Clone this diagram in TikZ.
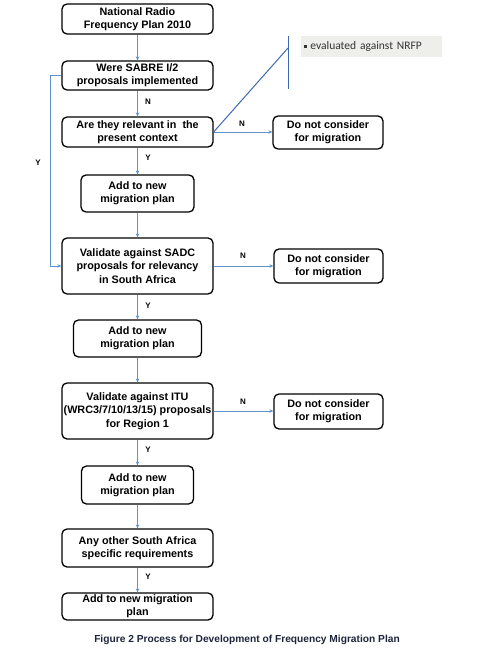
\documentclass[tikz,border=0pt]{standalone}
\usepackage{fontspec}
\setmainfont{Liberation Sans}
\newfontfamily\calib{Carlito}
\usetikzlibrary{arrows.meta}
\definecolor{connc}{RGB}{96,146,204}
\definecolor{darkc}{RGB}{62,104,176}
\definecolor{notec}{RGB}{238,239,234}
\definecolor{capc}{RGB}{30,36,60}
\begin{document}
\begin{tikzpicture}[x=1pt,y=-1pt,
 box/.style={draw=black, line width=1.3pt, rounded corners=5pt, align=center,
   font=\bfseries\fontsize{10.8}{13.3}\selectfont, inner sep=0pt, minimum width=151pt},
 conn/.style={draw=connc, line width=0.9pt, -{Stealth[length=4pt,width=3.5pt]}},
 lab/.style={font=\bfseries\fontsize{8}{9}\selectfont, inner sep=0pt}]
\useasboundingbox (0,0) rectangle (487,660);

\node[box, minimum height=30pt] (nrfp) at (137.5,19) {National Radio\\Frequency Plan 2010};
\node[box, minimum height=29pt] (sabre) at (137.5,75.5) {Were SABRE I/2\\proposals implemented};
\node[box, minimum height=30pt] (relev) at (137.5,132) {Are they relevant in\ \ the\\present context};
\node[box, minimum width=113pt, minimum height=37pt] (add1) at (137.5,193.5) {Add to new\\migration plan};
\node[box, minimum height=56pt] (sadc) at (137.5,266) {Validate against SADC\\proposals for relevancy\\in South Africa};
\node[box, minimum width=128pt, minimum height=37pt] (add2) at (137.5,338.5) {Add to new\\migration plan};
\node[box, minimum height=56pt] (itu) at (137.5,411) {Validate against ITU\\(WRC3/7/10/13/15) proposals\\for Region 1};
\node[box, minimum width=112pt, minimum height=38pt] (add3) at (137.5,485) {Add to new\\migration plan};
\node[box, minimum height=38pt] (other) at (137.5,548) {Any other South Africa\\specific requirements};
\node[box, minimum height=27pt] (addf) at (137.5,606.5) {Add to new migration\\plan};

\node[box, minimum width=110pt, minimum height=33pt] (dnc1) at (328,132.5) {Do not consider\\for migration};
\node[box, minimum width=109pt, minimum height=34pt] (dnc2) at (328.5,266) {Do not consider\\for migration};
\node[box, minimum width=109pt, minimum height=35pt] (dnc3) at (328.5,411.5) {Do not consider\\for migration};

\draw[conn] (nrfp) -- (sabre);
\draw[conn] (sabre) -- (relev);
\draw[conn] (relev) -- (add1);
\draw[conn] (add1) -- (sadc);
\draw[conn] (sadc) -- (add2);
\draw[conn] (add2) -- (itu);
\draw[conn] (itu) -- (add3);
\draw[conn] (add3) -- (other);
\draw[conn] (other) -- (addf);
\draw[conn] (relev.east) -- (dnc1.west |- relev.east);
\draw[conn] (sadc.east) -- (dnc2.west |- sadc.east);
\draw[conn] (itu.east) -- (dnc3.west |- itu.east);
\draw[conn] (sabre.west) -- ++(-11,0) |- (sadc.west);

\node[lab] (l1) at (148,102) {N};
\node[lab] (l2) at (148,158) {Y};
\node[lab] (l3) at (242,124) {N};
\node[lab] (l4) at (38,163) {Y};
\node[lab] (l5) at (148,306) {Y};
\node[lab] (l6) at (243,256) {N};
\node[lab] (l7) at (243,402) {N};
\node[lab] (l8) at (148,450) {Y};
\node[lab] (l9) at (148,577) {Y};

\coordinate (ct) at (288,36);
\coordinate (cm) at (288,48);
\coordinate (cb) at (288,89);
\draw[darkc, line width=1pt] (relev.east) -- (cm);
\draw[darkc, line width=1pt] (ct) -- (cb);
\node[fill=notec, minimum width=141pt, minimum height=21pt, inner sep=0pt, text width=135pt, align=left,
  font=\calib\fontsize{11.5}{12}\selectfont, text=black!80] (note) at (371.5,46.5)
  {\raisebox{2pt}{\rule{2.6pt}{2.6pt}}\ evaluated against NRFP};

\node[font=\bfseries\fontsize{10.2}{11}\selectfont, text=capc, inner sep=0pt] (cap) at (247,640)
  {Figure 2 Process for Development of Frequency Migration Plan};
\end{tikzpicture}
\end{document}
